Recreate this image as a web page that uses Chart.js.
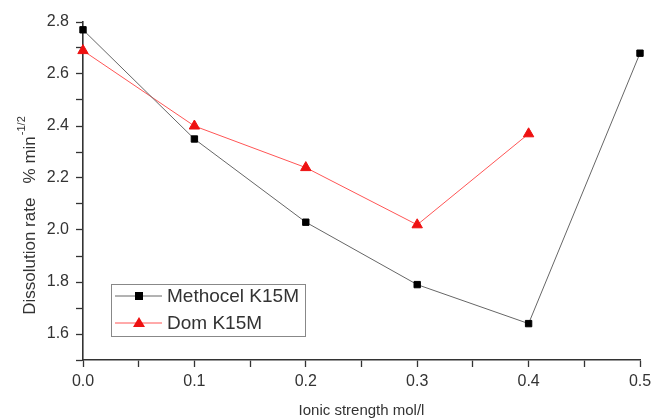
<!DOCTYPE html>
<html><head><meta charset="utf-8">
<script src="https://cdn.jsdelivr.net/npm/chart.js@4.4.1/dist/chart.umd.min.js"></script>
<style>html,body{margin:0;padding:0;background:#fff}#wrap{width:651px;height:420px}</style>
</head><body><div id="wrap"><canvas id="c" width="651" height="420"></canvas></div>
<script>
const ionicStrength = [0.0, 0.1, 0.2, 0.3, 0.4, 0.5];
const methocelK15M = [2.77, 2.35, 2.03, 1.79, 1.64, 2.68];
const domK15M = [2.69, 2.40, 2.24, 2.02, 2.37];
const yTickValues = [1.5,1.6,1.7,1.8,1.9,2.0,2.1,2.2,2.3,2.4,2.5,2.6,2.7,2.8];
const yLabelValues = [1.6,1.8,2.0,2.2,2.4,2.6,2.8];
const xTickValues = [0,0.05,0.1,0.15,0.2,0.25,0.3,0.35,0.4,0.45,0.5];
const xLabelValues = [0,0.1,0.2,0.3,0.4,0.5];
const seriesNames = ['Methocel K15M', 'Dom K15M'];
const xTitle = 'Ionic strength mol/l';
const yTitle = 'Dissolution rate   % min';
const yTitleSup = '-1/2';

const FONT = 'Liberation Sans, Arial, sans-serif';
const TXT = '#333';
const near = (v, arr) => arr.some(a => Math.abs(a - v) < 1e-6);

const legendPlugin = {
  id: 'insideLegend',
  afterDraw(chart) {
    const ctx = chart.ctx;
    ctx.save();
    const x0 = 111, y0 = 284, w = 194, h = 52;
    ctx.strokeStyle = '#888'; ctx.lineWidth = 1;
    ctx.strokeRect(x0 + 0.5, y0 + 0.5, w, h);
    chart.data.datasets.forEach((ds, i) => {
      const cy = y0 + 12 + i * 27;
      ctx.strokeStyle = ds.borderColor; ctx.lineWidth = 1;
      ctx.beginPath(); ctx.moveTo(115, cy); ctx.lineTo(162, cy); ctx.stroke();
      ctx.fillStyle = ds.pointBackgroundColor;
      if (ds.pointStyle === 'rect') {
        ctx.fillRect(135, cy - 4, 8, 8);
      } else {
        ctx.beginPath(); ctx.moveTo(139, cy - 6); ctx.lineTo(145, cy + 4); ctx.lineTo(133, cy + 4); ctx.closePath(); ctx.fill();
      }
      ctx.fillStyle = TXT; ctx.font = '19px ' + FONT; ctx.textBaseline = 'middle'; ctx.textAlign = 'left';
      ctx.fillText(ds.label, 167, cy + 1);
    });
    // y axis title with superscript
    ctx.translate(30, 216);
    ctx.rotate(-Math.PI / 2);
    ctx.font = '17px ' + FONT;
    ctx.textBaseline = 'middle';
    const wMain = ctx.measureText(yTitle).width;
    ctx.font = '11px ' + FONT;
    const wSup = ctx.measureText(yTitleSup).width;
    let sx = -(wMain + wSup) / 2;
    ctx.font = '17px ' + FONT; ctx.textAlign = 'left'; ctx.fillStyle = TXT;
    ctx.fillText(yTitle, sx, 0);
    ctx.font = '11px ' + FONT;
    ctx.fillText(yTitleSup, sx + wMain + 1, -8);
    ctx.restore();
  }
};

new Chart(document.getElementById('c'), {
  type: 'line',
  data: {
    datasets: [
      {
        label: seriesNames[0],
        data: ionicStrength.map((x, i) => ({x, y: methocelK15M[i]})),
        borderColor: '#666', borderWidth: 1,
        pointStyle: 'rect', pointRadius: 4.5, pointBackgroundColor: '#000', pointBorderColor: '#000',
        clip: false, tension: 0
      },
      {
        label: seriesNames[1],
        data: domK15M.map((y, i) => ({x: ionicStrength[i], y})),
        borderColor: '#ff5555', borderWidth: 1,
        pointStyle: 'triangle', pointRadius: 6, pointBackgroundColor: '#ee1111', pointBorderColor: '#ee1111',
        clip: false, tension: 0
      }
    ]
  },
  options: {
    responsive: false, animation: false,
    layout: {padding: {left: 0, right: 11, top: 22, bottom: 0}},
    plugins: {legend: {display: false}, tooltip: {enabled: false}},
    scales: {
      x: {
        type: 'linear', min: 0, max: 0.5,
        afterBuildTicks: s => { s.ticks = xTickValues.map(v => ({value: v})); },
        afterFit: s => { s.height = 60; s.paddingLeft = 0; s.paddingRight = 0; },
        border: {color: '#333', width: 1.6},
        grid: {display: true, drawOnChartArea: false, drawTicks: true, tickLength: 7, tickColor: '#333', tickWidth: 1.3},
        ticks: {
          color: TXT, font: {family: FONT, size: 16}, padding: 5, maxRotation: 0, autoSkip: false,
          callback: v => near(v, xLabelValues) ? v.toFixed(1) : ''
        },
        title: {display: true, text: xTitle, color: TXT, font: {family: FONT, size: 15}, padding: {top: 4, bottom: 0}}
      },
      y: {
        type: 'linear', min: 1.5, max: 2.8,
        afterBuildTicks: s => { s.ticks = yTickValues.map(v => ({value: v})); },
        afterFit: s => { s.width = 83; s.paddingTop = 0; s.paddingBottom = 0; },
        border: {color: '#333', width: 1.6},
        grid: {display: true, drawOnChartArea: false, drawTicks: true, tickLength: 7, tickColor: '#333', tickWidth: 1.3},
        ticks: {
          color: TXT, font: {family: FONT, size: 16}, padding: 7, autoSkip: false,
          callback: v => near(v, yLabelValues) ? v.toFixed(1) : ''
        }
      }
    }
  },
  plugins: [legendPlugin]
});
</script></body></html>
